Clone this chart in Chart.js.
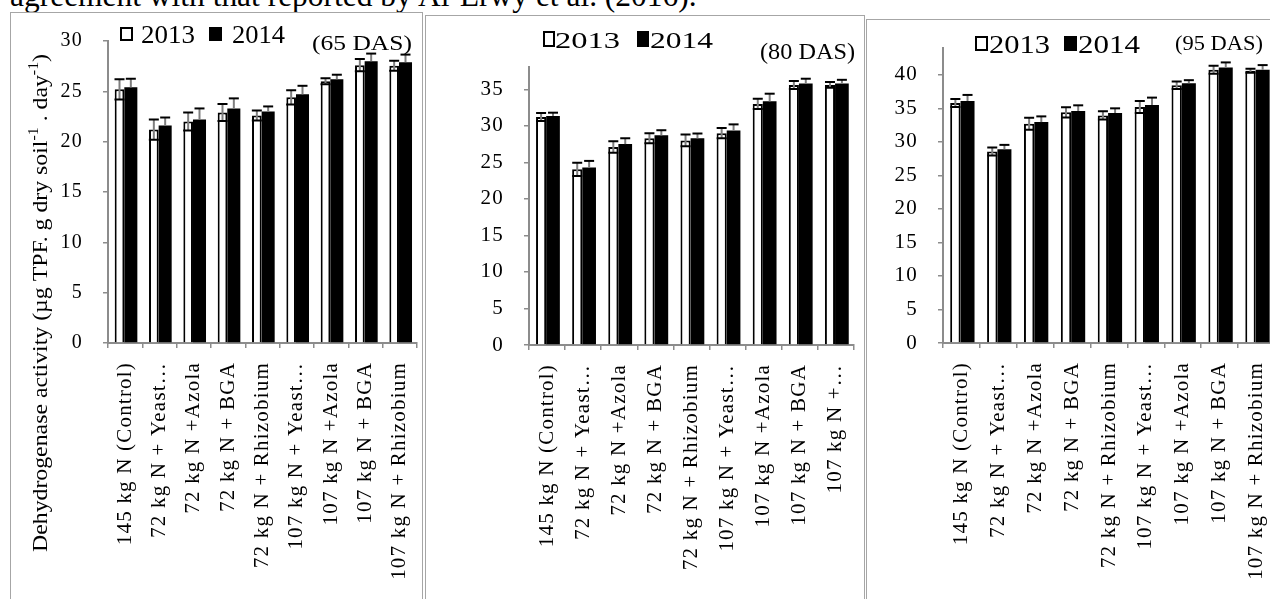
<!DOCTYPE html>
<html>
<head>
<meta charset="utf-8">
<script src="https://cdn.jsdelivr.net/npm/chart.js@4.4.1/dist/chart.umd.min.js"></script>
<style>
  html, body { margin: 0; padding: 0; background: #fff; overflow: hidden; width: 1270px; height: 599px; position: relative; }
  #lead { position: absolute; left: 10px; top: -20px; font: 31px/31px "Liberation Serif", serif; white-space: nowrap; transform-origin: 0 0; }
  .panel { position: absolute; border: 1px solid #a6a6a6; background: #fff; overflow: hidden; }
  #p1 { left: 10px; top: 12px; width: 411px; height: 620px; }
  #p2 { left: 425px; top: 15px; width: 438px; height: 620px; }
  #p3 { left: 866px; top: 19px; width: 420px; height: 620px; }
  canvas { display: block; }
</style>
</head>
<body>
<span id="lead">agreement with that reported by Al-Erwy et al. (2016).</span>
<div class="panel" id="p1"><canvas id="c1" width="411" height="600"></canvas></div>
<div class="panel" id="p2"><canvas id="c2" width="438" height="600"></canvas></div>
<div class="panel" id="p3"><canvas id="c3" width="420" height="600"></canvas></div>
<script>
// treatments (as printed under each panel)
var labels65 = ["145 kg N (Control)", "72 kg N + Yeast\u2026", "72 kg N +Azola", "72 kg N + BGA", "72 kg N + Rhizobium",
  "107 kg N + Yeast\u2026", "107 kg N +Azola", "107 kg N + BGA", "107 kg N + Rhizobium"];
var labels80 = ["145 kg N (Control)", "72 kg N + Yeast\u2026", "72 kg N +Azola", "72 kg N + BGA", "72 kg N + Rhizobium",
  "107 kg N + Yeast\u2026", "107 kg N +Azola", "107 kg N + BGA", "107 kg N +\u2026"];
var labels95 = ["145 kg N (Control)", "72 kg N + Yeast\u2026", "72 kg N +Azola", "72 kg N + BGA", "72 kg N + Rhizobium",
  "107 kg N + Yeast\u2026", "107 kg N +Azola", "107 kg N + BGA", "107 kg N + Rhizobium"];
var seasons = ["2013", "2014"];

// 65 DAS
var das65_2013 = [25.2, 21.2, 22.0, 22.9, 22.6, 24.4, 26.0, 27.6, 27.55];
var das65_2014 = [25.4, 21.6, 22.2, 23.3, 23.0, 24.7, 26.2, 28.0, 27.9];
var err65_2013 = [1.0, 1.0, 0.9, 0.85, 0.5, 0.7, 0.3, 0.6, 0.5];
var err65_2014 = [0.85, 0.8, 1.1, 1.0, 0.5, 0.85, 0.45, 0.75, 0.75];
// 80 DAS
var das80_2013 = [31.2, 24.05, 27.1, 28.3, 28.0, 29.0, 33.0, 35.6, 35.6];
var das80_2014 = [31.35, 24.3, 27.5, 28.7, 28.3, 29.35, 33.35, 35.8, 35.8];
var err80_2013 = [0.55, 0.9, 0.8, 0.7, 0.8, 0.7, 0.7, 0.55, 0.4];
var err80_2014 = [0.45, 0.9, 0.8, 0.7, 0.65, 0.85, 1.05, 0.65, 0.5];
// 95 DAS
var das95_2013 = [35.8, 28.55, 32.7, 34.4, 33.95, 35.2, 38.45, 40.75, 40.6];
var das95_2014 = [36.1, 28.9, 32.95, 34.6, 34.3, 35.5, 38.75, 41.1, 40.75];
var err95_2013 = [0.6, 0.6, 0.9, 0.75, 0.6, 0.9, 0.55, 0.6, 0.3];
var err95_2014 = [0.9, 0.65, 0.85, 0.85, 0.7, 1.1, 0.45, 0.75, 0.7];

var ticks65 = [0, 5, 10, 15, 20, 25, 30];
var ticks80 = [0, 5, 10, 15, 20, 25, 30, 35];
var ticks95 = [0, 5, 10, 15, 20, 25, 30, 35, 40];

var SERIF = '"Liberation Serif", "Times New Roman", serif';
var AXIS = "#8c8c8c";
Chart.defaults.font.family = SERIF;
Chart.defaults.color = "#000";

// squeeze the leading sentence to its printed width
var lead = document.getElementById("lead");
lead.style.transform = "scaleX(" + (687 / lead.offsetWidth) + ")";

function fitText(ctx, str, x, y, w) {
  var m = ctx.measureText(str).width;
  ctx.save();
  ctx.translate(x, y);
  ctx.scale(w / m, 1);
  ctx.fillText(str, 0, 0);
  ctx.restore();
}

var errorBars = {
  id: "errorBars",
  afterDatasetsDraw: function (chart) {
    var ctx = chart.ctx, ys = chart.scales.y;
    chart.data.datasets.forEach(function (ds, i) {
      var meta = chart.getDatasetMeta(i);
      meta.data.forEach(function (bar, j) {
        var v = ds.data[j], e = ds.errors[j];
        var top = ys.getPixelForValue(v + e);
        var bot = ds.errMode === "both" ? ys.getPixelForValue(v - e) : bar.y;
        ctx.save();
        ctx.lineWidth = 2;
        ctx.strokeStyle = "#7f7f7f";
        ctx.beginPath();
        ctx.moveTo(bar.x, top);
        ctx.lineTo(bar.x, bot);
        ctx.stroke();
        ctx.strokeStyle = "#000";
        ctx.beginPath();
        ctx.moveTo(bar.x - 5, top);
        ctx.lineTo(bar.x + 5, top);
        if (ds.errMode === "both") {
          ctx.moveTo(bar.x - 5, bot);
          ctx.lineTo(bar.x + 5, bot);
        }
        ctx.stroke();
        ctx.restore();
      });
    });
  }
};

var decor = {
  id: "decor",
  beforeDraw: function (chart) {
    chart.ctx.letterSpacing = "1.2px";
  },
  afterDraw: function (chart, args, o) {
    var ctx = chart.ctx;
    ctx.save();
    ctx.letterSpacing = "0px";
    ctx.fillStyle = "#000";
    ctx.textBaseline = "alphabetic";
    ctx.textAlign = "left";
    // legend
    var L = o.legend;
    ctx.lineWidth = 2;
    ctx.strokeStyle = "#000";
    ctx.fillStyle = "#fff";
    ctx.fillRect(L.box1[0], L.box1[1], L.box1[2], L.box1[3]);
    ctx.strokeRect(L.box1[0], L.box1[1], L.box1[2], L.box1[3]);
    ctx.fillStyle = "#000";
    ctx.fillRect(L.box2[0] - 1, L.box2[1] - 1, L.box2[2] + 2, L.box2[3] + 2);
    ctx.font = L.size + "px " + SERIF;
    fitText(ctx, chart.data.datasets[0].label, L.t1[0], L.base, L.t1[1]);
    fitText(ctx, chart.data.datasets[1].label, L.t2[0], L.base, L.t2[1]);
    // stage label
    ctx.font = o.stage.size + "px " + SERIF;
    fitText(ctx, o.stage.text, o.stage.x, o.stage.base, o.stage.w);
    // y axis title with superscripts
    if (o.yTitle) {
      var T = o.yTitle;
      var parts = [["Dehydrogenase activity (\u00b5g TPF. g dry soil", 0], ["-1", 1], [" . day", 0], ["-1", 1], [")", 0]];
      var big = T.size + "px " + SERIF, small = Math.round(T.size * 0.65) + "px " + SERIF;
      var total = 0;
      parts.forEach(function (p) { ctx.font = p[1] ? small : big; total += ctx.measureText(p[0]).width; });
      ctx.translate(T.x, T.y);
      ctx.rotate(-Math.PI / 2);
      ctx.scale(T.len / total, 1);
      var cx = 0;
      parts.forEach(function (p) {
        ctx.font = p[1] ? small : big;
        ctx.fillText(p[0], cx, p[1] ? -T.size * 0.42 : 0);
        cx += ctx.measureText(p[0]).width;
      });
    }
    ctx.restore();
  }
};

function panel(id, o) {
  var gridOpts = { drawOnChartArea: false, tickLength: 5, color: AXIS, lineWidth: 1.5 };
  return new Chart(document.getElementById(id), {
    type: "bar",
    data: {
      labels: o.labels,
      datasets: [
        { label: seasons[0], data: o.a, errors: o.ea, errMode: "both", barPercentage: 0.85,
          backgroundColor: "#fff", borderColor: "#000", borderWidth: 2 },
        { label: seasons[1], data: o.b, errors: o.eb, errMode: "plus", barPercentage: 1.15,
          backgroundColor: "#000", borderColor: "#000", borderWidth: 0 }
      ]
    },
    options: {
      responsive: false,
      animation: false,
      events: [],
      datasets: { bar: { categoryPercentage: 0.66 } },
      layout: { padding: { left: 0, top: o.top, right: o.right, bottom: 0 } },
      plugins: { legend: { display: false }, tooltip: { enabled: false }, decor: o.decor },
      scales: {
        x: {
          grid: gridOpts,
          border: { color: AXIS, width: 2 },
          ticks: { autoSkip: false, minRotation: 90, maxRotation: 90, padding: 14, font: { size: 21 } },
          afterFit: function (s) { s.height = o.xH; s.paddingLeft = 0; s.paddingRight = 0; }
        },
        y: {
          min: 0,
          max: o.max,
          grid: gridOpts,
          border: { color: AXIS, width: 2 },
          ticks: { padding: 20, font: { size: o.tickSize } },
          afterBuildTicks: function (s) { s.ticks = o.ticks.map(function (v) { return { value: v }; }); },
          afterFit: function (s) { s.width = o.yW; s.paddingTop = 0; s.paddingBottom = 0; }
        }
      }
    },
    plugins: [errorBars, decor]
  });
}

panel("c1", {
  labels: labels65, a: das65_2013, b: das65_2014, ea: err65_2013, eb: err65_2014,
  ticks: ticks65, max: 30, top: 28, right: 5, yW: 97, xH: 270, tickSize: 20,
  decor: {
    legend: { box1: [110, 15, 11, 12], box2: [199, 15, 11, 12], size: 26, base: 30, t1: [130, 54], t2: [221, 53] },
    stage: { text: "(65 DAS)", size: 22, x: 301, base: 37, w: 100 },
    yTitle: { x: 36, y: 539, len: 498, size: 21 }
  }
});

panel("c2", {
  labels: labels80, a: das80_2013, b: das80_2014, ea: err80_2013, eb: err80_2014,
  ticks: ticks80, max: 38, top: 51.4, right: 10, yW: 103, xH: 271, tickSize: 21,
  decor: {
    legend: { box1: [118, 16, 10, 14], box2: [212, 16, 10, 14], size: 24, base: 32, t1: [129, 65], t2: [224, 63] },
    stage: { text: "(80 DAS)", size: 23, x: 334, base: 43, w: 95 }
  }
});

panel("c3", {
  labels: labels95, a: das95_2013, b: das95_2014, ea: err95_2013, eb: err95_2014,
  ticks: ticks95, max: 44, top: 28, right: 12, yW: 76, xH: 277, tickSize: 21,
  decor: {
    legend: { box1: [109, 17, 11, 13], box2: [198, 17, 11, 13], size: 26, base: 33, t1: [122, 61], t2: [211, 62] },
    stage: { text: "(95 DAS)", size: 20, x: 308, base: 30, w: 88 }
  }
});
</script>
</body>
</html>
